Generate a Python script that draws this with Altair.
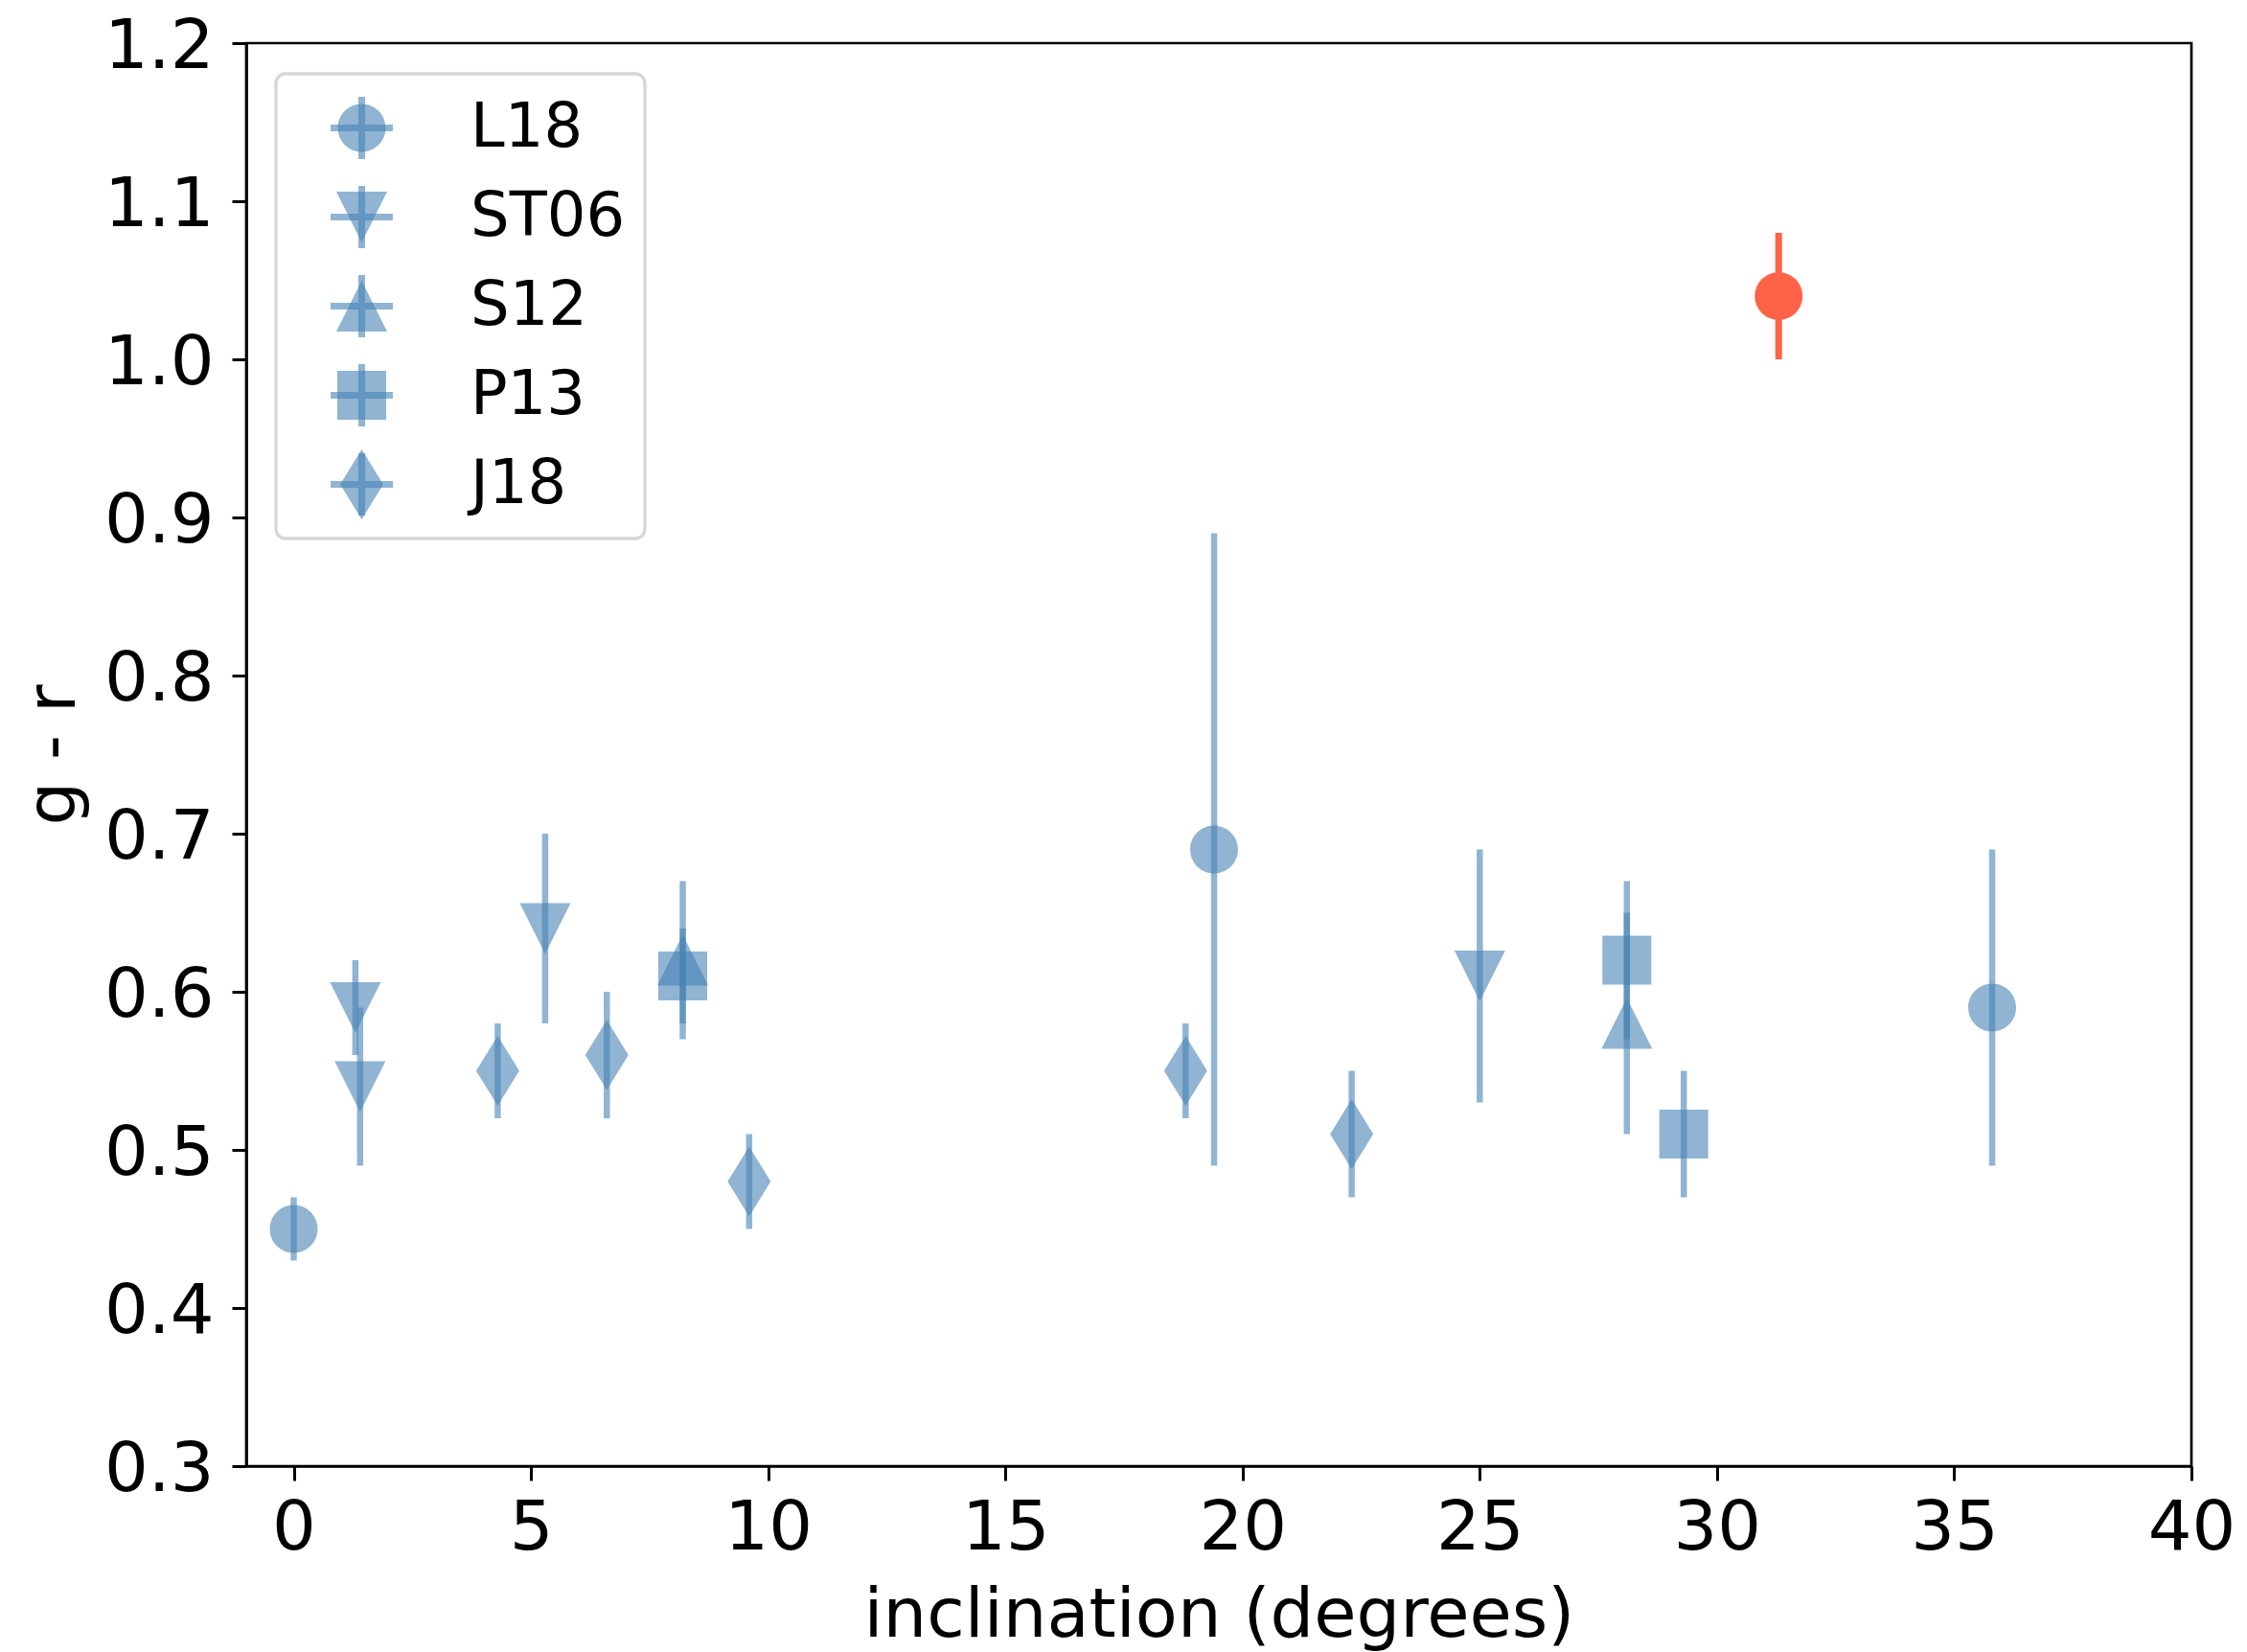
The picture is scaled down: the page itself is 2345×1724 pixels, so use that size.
import altair as alt
import pandas as pd

# ---------------- data ----------------
sources = ["L18", "ST06", "S12", "P13", "J18"]

l18_x = [0.0, 19.4, 35.8]
l18_y = [0.45, 0.69, 0.59]
l18_lo = [0.43, 0.49, 0.49]
l18_hi = [0.47, 0.89, 0.69]

st06_x = [1.3, 1.4, 5.3, 25.0]
st06_y = [0.59, 0.54, 0.64, 0.61]
st06_lo = [0.56, 0.49, 0.58, 0.53]
st06_hi = [0.62, 0.59, 0.70, 0.69]

s12_x = [8.2, 28.1]
s12_y = [0.62, 0.58]
s12_lo = [0.57, 0.51]
s12_hi = [0.67, 0.67]

p13_x = [8.2, 28.1, 29.3]
p13_y = [0.61, 0.62, 0.51]
p13_lo = [0.58, 0.57, 0.47]
p13_hi = [0.64, 0.65, 0.55]

j18_x = [4.3, 6.6, 9.6, 18.8, 22.3]
j18_y = [0.55, 0.56, 0.48, 0.55, 0.51]
j18_lo = [0.52, 0.52, 0.45, 0.52, 0.47]
j18_hi = [0.58, 0.60, 0.51, 0.58, 0.55]

red_x = [31.3]
red_y = [1.04]
red_lo = [1.00]
red_hi = [1.08]

x_ticks = [0, 5, 10, 15, 20, 25, 30, 35, 40]
y_ticks = [0.3, 0.4, 0.5, 0.6, 0.7, 0.8, 0.9, 1.0, 1.1, 1.2]

# ---------------- tables ----------------
series = [
    ("L18", l18_x, l18_y, l18_lo, l18_hi),
    ("ST06", st06_x, st06_y, st06_lo, st06_hi),
    ("S12", s12_x, s12_y, s12_lo, s12_hi),
    ("P13", p13_x, p13_y, p13_lo, p13_hi),
    ("J18", j18_x, j18_y, j18_lo, j18_hi),
]
rows = []
for name, xs, ys, los, his in series:
    for xv, yv, lo, hi in zip(xs, ys, los, his):
        rows.append({"source": name, "src2": name + "_bar",
                     "x": xv, "y": yv, "lo": lo, "hi": hi})
df = pd.DataFrame(rows)
red_df = pd.DataFrame({"x": red_x, "y": red_y, "lo": red_lo, "hi": red_hi})
cross_domain = [s + "_bar" for s in sources]

# ---------------- styling ----------------
BLUE = "steelblue"
RED = "#FF6347"
BOX = 73
SIZE = BOX * BOX
circle_p = "M0.685,0A0.685,0.685,0,1,1,-0.685,0A0.685,0.685,0,1,1,0.685,0Z"
tri_down = "M-0.726,-0.726L0.726,-0.726L0,0.726Z"
tri_up = "M0,-0.726L0.726,0.726L-0.726,0.726Z"
square_p = "M-0.699,-0.699L0.699,-0.699L0.699,0.699L-0.699,0.699Z"
diamond_p = "M0,-1L0.616,0L0,1L-0.616,0Z"
shape_paths = [circle_p, tri_down, tri_up, square_p, diamond_p]
# error-bar cross for the legend; the zero-area end points give it the same
# -1..1 box height as the diamond so the rows line up with the main legend
cross_p = ("M0,-1L0,-1L0,-1Z"
           "M-0.89,-0.096L0.89,-0.096L0.89,0.096L-0.89,0.096Z"
           "M-0.096,-0.89L0.096,-0.89L0.096,0.89L-0.096,0.89Z"
           "M0,1L0,1L0,1Z")

LX, LY, LPAD, LSYMOFF, LLABOFF, LROW, LFS = 31, 32, 20, 33, 77, 20, 64

xscale = alt.Scale(domain=[-1, 40], nice=False, zero=False)
yscale = alt.Scale(domain=[0.3, 1.2], nice=False, zero=False)
xaxis = alt.Axis(values=x_ticks, format="d", title="inclination (degrees)")
yaxis = alt.Axis(values=y_ticks, format=".1f", title="g - r")

base = alt.Chart(df)

bars = base.mark_rule(color=BLUE, strokeWidth=6.5, opacity=0.6).encode(
    x=alt.X("x:Q", scale=xscale, axis=xaxis),
    y=alt.Y("lo:Q", scale=yscale, axis=yaxis),
    y2="hi:Q",
)

legend_main = alt.Legend(
    title=None, orient="none", legendX=LX, legendY=LY, padding=LPAD,
    symbolSize=SIZE, symbolOffset=LSYMOFF, labelOffset=LLABOFF, rowPadding=LROW,
    gridAlign="all",
    labelFontSize=LFS, labelFont="DejaVu Sans", labelColor="black", labelLimit=400,
    symbolFillColor=BLUE, symbolOpacity=0.6, symbolStrokeWidth=0,
    strokeColor="#d6d6d6", cornerRadius=10,
)
legend_cross = alt.Legend(
    title=None, orient="none", legendX=LX, legendY=LY, padding=LPAD,
    symbolSize=SIZE, symbolOffset=LSYMOFF, labelOffset=LLABOFF, rowPadding=LROW,
    gridAlign="all",
    labelFontSize=LFS, labelExpr="''", symbolType=cross_p,
    symbolFillColor=BLUE, symbolOpacity=0.6, symbolStrokeWidth=0,
)

points = base.mark_point(filled=True, color=BLUE, size=SIZE, strokeWidth=0).encode(
    x=alt.X("x:Q", scale=xscale, axis=xaxis),
    y=alt.Y("y:Q", scale=yscale, axis=yaxis),
    shape=alt.Shape("source:N", scale=alt.Scale(domain=sources, range=shape_paths),
                    legend=legend_main),
    opacity=alt.Opacity("src2:O", scale=alt.Scale(domain=cross_domain, range=[0.6] * 5),
                        legend=legend_cross),
)

red_base = alt.Chart(red_df)
red_bar = red_base.mark_rule(color=RED, strokeWidth=7).encode(
    x=alt.X("x:Q", scale=xscale, axis=xaxis),
    y=alt.Y("lo:Q", scale=yscale, axis=yaxis),
    y2="hi:Q",
)
red_pt = red_base.mark_point(filled=True, color=RED, size=2500, shape="circle",
                             opacity=1, strokeWidth=0).encode(
    x=alt.X("x:Q", scale=xscale, axis=xaxis),
    y=alt.Y("y:Q", scale=yscale, axis=yaxis),
)

chart = alt.layer(bars, points, red_bar, red_pt).properties(
    width=2030, height=1485,
    autosize=alt.AutoSizeParams(type="none"),
    padding={"left": 249, "top": 37, "right": 50, "bottom": 194},
).configure_axis(
    labelFont="DejaVu Sans", labelFontSize=72, labelColor="black",
    titleFont="DejaVu Sans", titleFontSize=72, titleFontWeight="normal", titleColor="black",
    domainColor="black", domainWidth=2.7, tickColor="black", tickWidth=3, tickSize=15,
    grid=False, labelFlush=False, labelOverlap=False,
).configure_axisX(
    labelPadding=14, titlePadding=20,
).configure_axisY(
    labelPadding=19, titlePadding=16, labelOffset=3,
).configure_legend(
    strokeWidth=3.3,
).configure_view(
    stroke="black", strokeWidth=2.7,
)

chart.save("out.html", embed_options={"renderer": "svg", "actions": False})
